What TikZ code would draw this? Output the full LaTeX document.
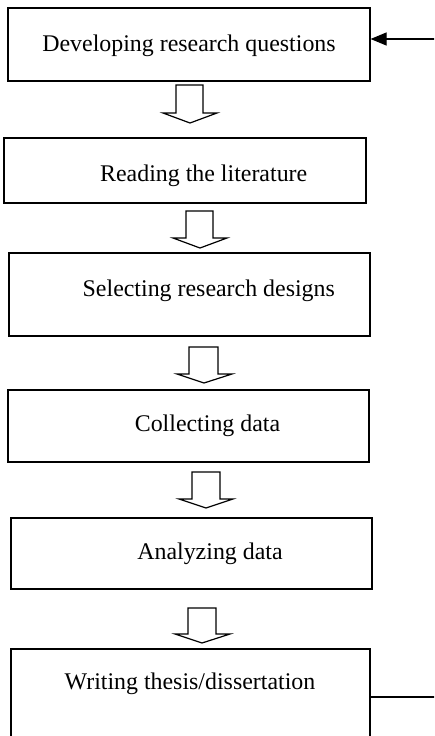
\documentclass[tikz,border=0pt]{standalone}
\usepackage{fontspec}
\setmainfont{Liberation Serif}
\usetikzlibrary{arrows.meta}
\begin{document}
\begin{tikzpicture}[x=1pt,y=-1pt,
  stepbox/.style={draw=black,line width=1.2pt,fill=white,inner sep=0pt},
  steptext/.style={anchor=base,inner sep=0pt,font=\fontsize{23.9}{28}\selectfont},
  blockarrow/.style={draw=black,line width=1.2pt,fill=white,line join=miter},
  link/.style={draw=black,line width=1.2pt}]
\useasboundingbox (0,0) rectangle (434,736);
\begin{scope}
\clip (0,0) rectangle (434,736);
% boxes
\node[stepbox,minimum width=362pt,minimum height=73pt] (b1) at (189,44.5) {};
\node[stepbox,minimum width=362pt,minimum height=65pt] (b2) at (185,170.5) {};
\node[stepbox,minimum width=361pt,minimum height=83pt] (b3) at (189.5,294.5) {};
\node[stepbox,minimum width=361pt,minimum height=72pt] (b4) at (188.5,426) {};
\node[stepbox,minimum width=361pt,minimum height=71pt] (b5) at (191.5,553.5) {};
\node[stepbox,minimum width=359pt,minimum height=100pt] (b6) at (190.5,699) {};
% texts
\node[steptext] (t1) at (189,51.5) {Developing research questions};
\node[steptext] (t2) at (203.7,181.5) {Reading the literature};
\node[steptext] (t3) at (208.8,296) {Selecting research designs};
\node[steptext] (t4) at (207.5,431) {Collecting data};
\node[steptext] (t5) at (210,559.3) {Analyzing data};
\node[steptext] (t6) at (190,689) {Writing thesis/dissertation};
% block arrows
\draw[blockarrow] (176,85) -- (203,85) -- (203,113) -- (217,113) -- (190,123) -- (163,113) -- (176,113) -- cycle;
\draw[blockarrow] (186,211) -- (213,211) -- (213,238) -- (227,238) -- (200,248) -- (173,238) -- (186,238) -- cycle;
\draw[blockarrow] (189,347) -- (218,347) -- (218,374) -- (232,374) -- (204,383) -- (177,374) -- (189,374) -- cycle;
\draw[blockarrow] (192,472) -- (220,472) -- (220,499) -- (233,499) -- (206,508) -- (179,499) -- (192,499) -- cycle;
\draw[blockarrow] (188,608) -- (216,608) -- (216,634) -- (230,634) -- (202,643) -- (175,634) -- (188,634) -- cycle;
% side connectors
\coordinate (inR) at (436,39);
\coordinate (outR) at (436,697);
\draw[link,-{Triangle[length=16pt,width=13pt]}] (inR) -- (inR -| b1.east);
\draw[link] (outR -| b6.east) -- (outR);
\end{scope}
\end{tikzpicture}
\end{document}
